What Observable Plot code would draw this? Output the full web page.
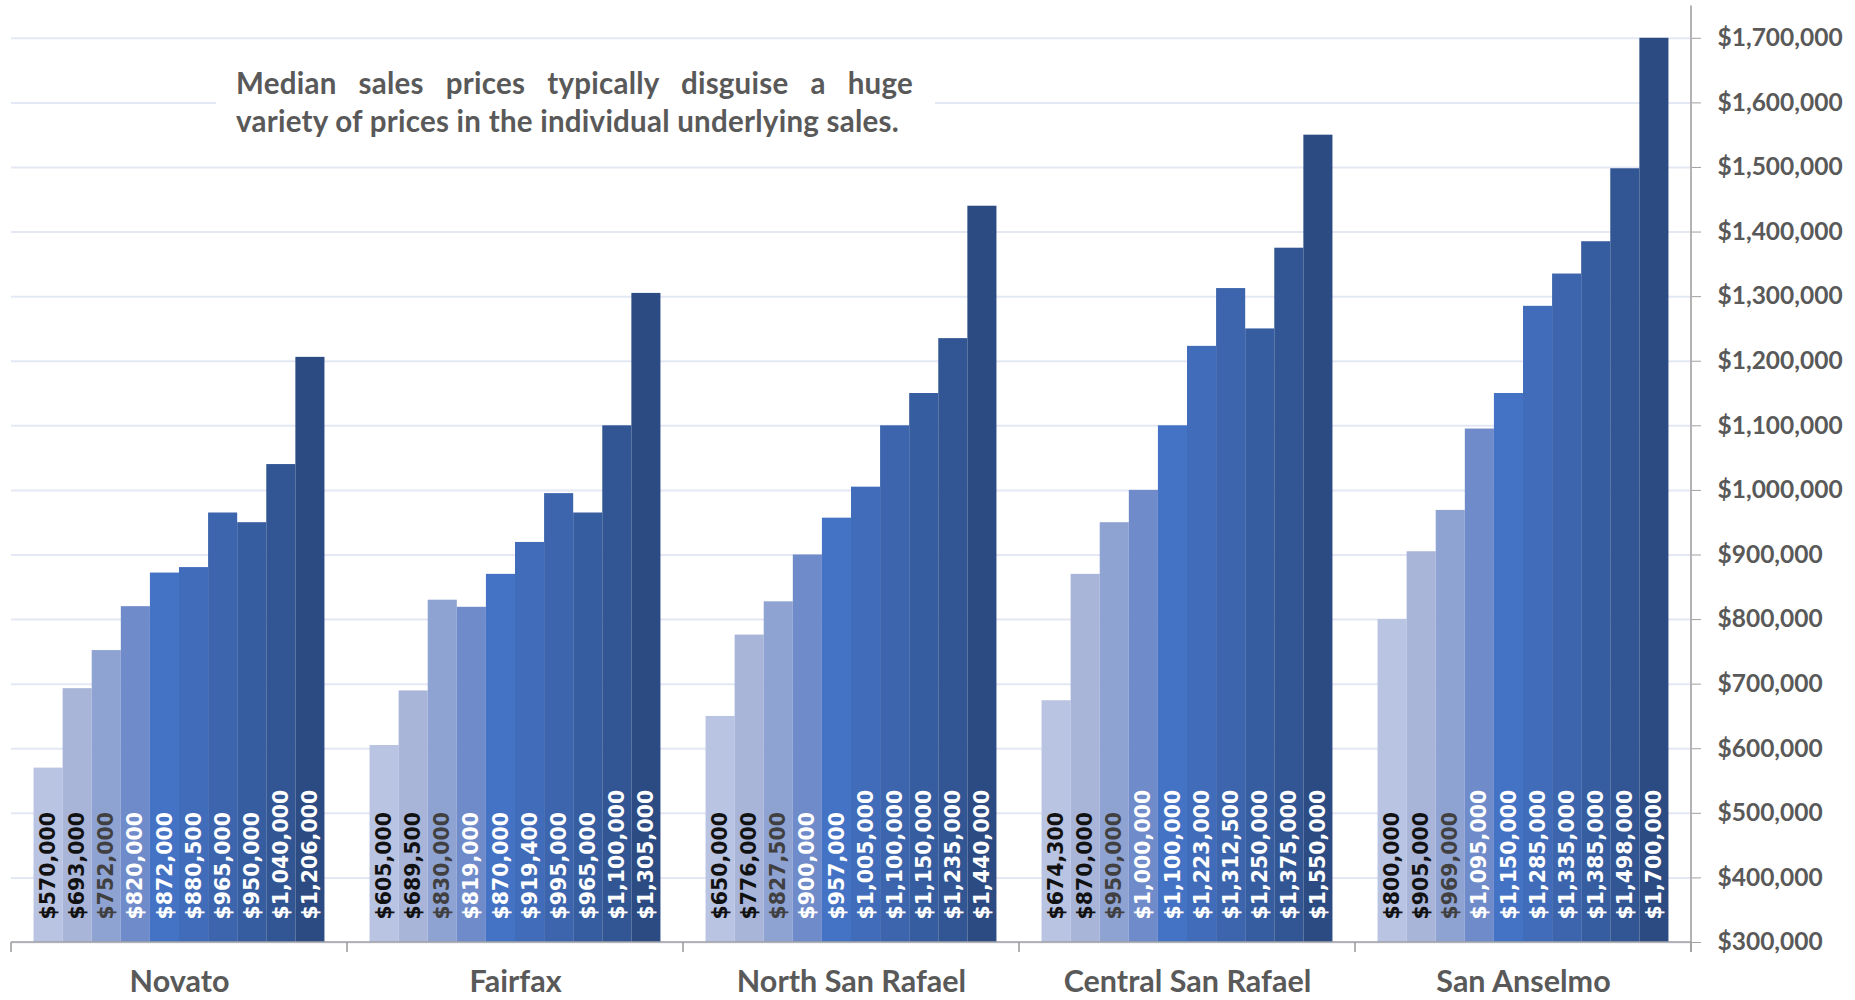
<!DOCTYPE html>
<html>
<head>
<meta charset="utf-8">
<script src="https://cdn.jsdelivr.net/npm/d3@7"></script>
<script src="https://cdn.jsdelivr.net/npm/@observablehq/plot@0.6"></script>
<style>
  html, body { margin: 0; padding: 0; background: #fff; }
  #wrap { position: relative; width: 1855px; height: 1000px; }
  #note {
    position: absolute; left: 216px; top: 46px; width: 719px; height: 114px;
    background: #fff; box-sizing: border-box; padding: 18px 22px 0 20px;
    font-family: Lato, sans-serif; font-weight: bold; font-size: 29.5px; line-height: 38px; color: #595959;
    letter-spacing: 0.25px;
  }
  #note .l1 { text-align: justify; text-align-last: justify; white-space: nowrap; }
  #note .l2 { text-align: left; white-space: nowrap; }
</style>
</head>
<body>
<div id="wrap">
  <div id="chart"></div>
  <div id="note"><div class="l1">Median sales prices typically disguise a huge</div><div class="l2">variety of prices in the individual underlying sales.</div></div>
</div>
<script>
const neighborhoods = ["Novato", "Fairfax", "North San Rafael", "Central San Rafael", "San Anselmo"];
const novato      = [570000, 693000, 752000, 820000, 872000, 880500, 965000, 950000, 1040000, 1206000];
const fairfax     = [605000, 689500, 830000, 819000, 870000, 919400, 995000, 965000, 1100000, 1305000];
const northSR     = [650000, 776000, 827500, 900000, 957000, 1005000, 1100000, 1150000, 1235000, 1440000];
const centralSR   = [674300, 870000, 950000, 1000000, 1100000, 1223000, 1312500, 1250000, 1375000, 1550000];
const sanAnselmo  = [800000, 905000, 969000, 1095000, 1150000, 1285000, 1335000, 1385000, 1498000, 1700000];
const yTicks = [300000, 400000, 500000, 600000, 700000, 800000, 900000, 1000000, 1100000, 1200000, 1300000, 1400000, 1500000, 1600000, 1700000];

const barColors = ["#B9C3E2", "#A8B5D9", "#8FA3D3", "#708BCA", "#4472C4", "#416CBA", "#3C65AD", "#365DA0", "#325594", "#2C4B83"];
const labelColors = ["#111111", "#111111", "#404040", "#FFFFFF", "#FFFFFF", "#FFFFFF", "#FFFFFF", "#FFFFFF", "#FFFFFF", "#FFFFFF"];

const seriesByHood = [novato, fairfax, northSR, centralSR, sanAnselmo];
const data = [];
neighborhoods.forEach((h, i) => seriesByHood[i].forEach((v, s) => data.push({hood: h, s, value: v})));

const fmt = d3.format("$,");

function axisLines(index, scales, values, dimensions) {
  const {fx, y} = scales;
  const y0 = y(300000);
  const xr = dimensions.width - dimensions.marginRight;
  const xs = neighborhoods.map(n => fx(n)).concat([xr]);
  const g = d3.create("svg:g")
    .attr("stroke", "#A0A0A0").attr("stroke-width", 1.6).attr("fill", "none");
  g.append("line").attr("x1", xs[0]).attr("x2", xr).attr("y1", y0).attr("y2", y0);
  xs.forEach(x => g.append("line").attr("x1", x).attr("x2", x).attr("y1", y0).attr("y2", y0 + 10));
  g.append("line").attr("x1", xr).attr("x2", xr).attr("y1", dimensions.marginTop).attr("y2", y0 + 10);
  return g.node();
}

const chart = Plot.plot({
  width: 1855,
  height: 1000,
  marginLeft: 10,
  marginRight: 163,
  marginTop: 5.5,
  marginBottom: 58,
  style: {fontFamily: "Lato, sans-serif", fontWeight: "bold", background: "#fff"},
  fx: {domain: neighborhoods, padding: 0, label: null},
  x: {domain: d3.range(10), paddingInner: 0, paddingOuter: 0.775, round: false, axis: null},
  y: {domain: [300000, 1750000], label: null},
  color: {domain: d3.range(10), range: barColors},
  marks: [
    Plot.gridY(yTicks, {stroke: "#E3E8F4", strokeOpacity: 1, strokeWidth: 2}),
    Plot.barY(data, {fx: "hood", x: "s", y1: 300000, y2: "value", fill: "s"}),
    Plot.text(data, {
      fx: "hood", x: "s", y: 300000, dy: -23,
      text: d => fmt(d.value), rotate: -90, textAnchor: "start",
      fill: d => labelColors[d.s],
      fontFamily: "DejaVu Sans", fontWeight: "bold", fontSize: 20.5
    }),
    Plot.frame({facet: "super", render: axisLines}),
    Plot.axisY(yTicks, {
      anchor: "right", tickSize: 9, tickPadding: 17, tickFormat: fmt,
      stroke: "#A0A0A0", fill: "#595959", fontSize: 24.5, fontWeight: "bold", label: null
    }),
    Plot.axisFx({
      anchor: "bottom", tickSize: 0, tickPadding: 28, fill: "#595959",
      fontSize: 30.5, fontWeight: "bold", label: null
    })
  ]
});
document.getElementById("chart").appendChild(chart);
</script>
</body>
</html>
